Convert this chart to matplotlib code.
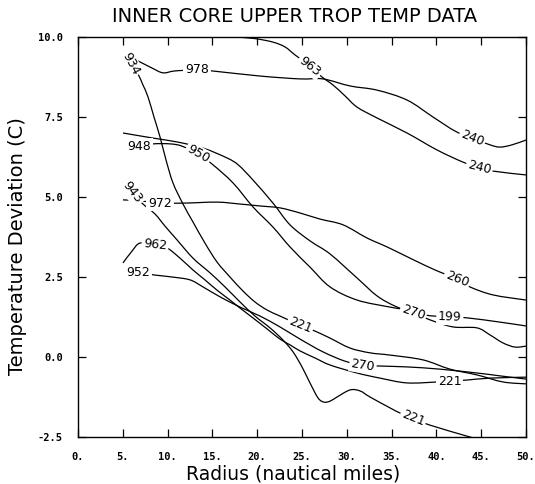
import matplotlib
matplotlib.use("Agg")
import matplotlib.pyplot as plt
from matplotlib.path import Path
from matplotlib.patches import PathPatch
import numpy as np

# ---------------- data (radius in n mi, temperature deviation in C) ----------------
c978_x = [5.25, 6.92, 8.26, 9.49, 10.83, 13.28, 14.96, 20.31, 24.78, 27.34, 30.36, 33.37,
          36.72, 39.62, 42.08, 43.97, 45.98, 47.1, 48.44, 50.0]
c978_y = [9.44, 9.22, 9.03, 8.88, 8.94, 8.97, 8.94, 8.78, 8.69, 8.69, 8.47, 8.34,
          8.03, 7.5, 7.06, 6.84, 6.63, 6.56, 6.63, 6.78]

c963_x = [17.5, 19.75, 21.76, 23.1, 24.22, 25.89, 27.23, 28.46, 29.8, 31.14, 33.37, 36.72,
          40.07, 42.97, 44.64, 46.32, 50.0]
c963_y = [10.0, 9.95, 9.84, 9.69, 9.44, 9.09, 8.75, 8.5, 8.16, 7.81, 7.47, 7.0,
          6.47, 6.09, 5.94, 5.81, 5.69]

c934_x = [5.13, 5.58, 6.14, 6.7, 7.25, 7.81, 8.48, 9.15, 9.82, 10.6, 11.72, 12.83, 14.17,
          15.51, 16.96, 18.42, 19.75, 21.09, 22.54, 24.78, 26.45, 28.13, 30.36, 32.59,
          34.82, 38.5, 41.52, 44.53, 47.43, 50.0]
c934_y = [9.53, 9.28, 9.06, 8.84, 8.5, 8.13, 7.5, 6.88, 6.16, 5.44, 4.78, 4.22, 3.56,
          2.97, 2.5, 2.06, 1.72, 1.47, 1.28, 1.0, 0.81, 0.59, 0.28, 0.13,
          0.06, -0.09, -0.38, -0.56, -0.78, -0.84]

c270_x = [5.02, 8.4, 11.05, 13.95, 16.63, 17.9, 19.53, 21.76, 23.66, 25.89, 28.13, 31.14,
          33.37, 35.38, 37.39, 39.29, 41.85, 44.53, 45.98, 47.43, 48.77, 50.0]
c270_y = [7.0, 6.84, 6.72, 6.53, 6.22, 6.0, 5.53, 4.81, 4.13, 3.63, 3.22, 2.47,
          1.91, 1.59, 1.38, 1.16, 0.94, 0.91, 0.69, 0.44, 0.31, 0.34]

c948_x = [5.55, 6.86, 8.37, 10.27, 11.6, 13.39, 14.96, 17.3, 19.53, 21.76, 23.66, 25.89,
          28.13, 31.14, 34.82, 36.72, 38.73, 41.52, 43.53, 47.1, 50.0]
c948_y = [6.59, 6.59, 6.66, 6.66, 6.59, 6.34, 6.03, 5.44, 4.69, 4.06, 3.44, 2.81,
          2.19, 1.78, 1.56, 1.47, 1.31, 1.25, 1.22, 1.09, 0.97]

c972_x = [5.02, 6.92, 9.15, 11.94, 15.51, 18.08, 20.31, 22.54, 24.78, 27.01, 29.58, 32.25,
          34.49, 37.05, 39.84, 42.3, 43.75, 46.32, 50.0]
c972_y = [4.91, 4.88, 4.81, 4.81, 4.84, 4.78, 4.72, 4.66, 4.5, 4.31, 4.13, 3.72,
          3.44, 3.09, 2.72, 2.44, 2.19, 1.94, 1.78]

c943_x = [5.3, 6.03, 7.14, 8.59, 9.71, 11.05, 12.83, 14.73, 16.41, 18.08, 19.75, 21.43,
          22.88, 24.0, 25.0, 25.89, 26.79, 27.46, 28.13, 28.91, 30.36, 31.47, 32.59,
          34.82, 35.94, 37.39, 39.29, 43.75, 45.98]
c943_y = [5.4, 5.16, 4.81, 4.47, 4.09, 3.66, 3.09, 2.63, 2.19, 1.72, 1.28, 0.91,
          0.53, 0.16, -0.31, -0.81, -1.28, -1.41, -1.38, -1.25, -1.03, -1.06, -1.25,
          -1.59, -1.75, -1.91, -2.13, -2.5, -2.69]

c962_x = [5.02, 6.03, 6.92, 8.59, 9.93, 11.38, 12.83, 14.17, 15.51, 16.96, 18.08, 19.53,
          21.09, 22.54, 23.66, 24.78, 26.45, 28.13, 31.14, 33.71, 36.72, 40.07, 41.52,
          43.42, 45.98, 50.0]
c962_y = [2.94, 3.31, 3.56, 3.5, 3.41, 3.09, 2.72, 2.41, 2.09, 1.78, 1.53, 1.22,
          0.88, 0.56, 0.38, 0.19, -0.03, -0.25, -0.5, -0.66, -0.81, -0.78, -0.75,
          -0.72, -0.66, -0.63]

c952_x = [5.5, 6.75, 8.59, 10.49, 12.5, 13.95, 15.85, 18.08, 20.31, 22.54, 24.78, 27.34,
          29.8, 31.81, 33.48, 36.72, 40.4, 44.53, 47.1, 50.0]
c952_y = [2.63, 2.63, 2.56, 2.5, 2.41, 2.19, 1.88, 1.56, 1.28, 0.94, 0.56, 0.16,
          -0.13, -0.25, -0.28, -0.31, -0.38, -0.5, -0.59, -0.69]

# line labels: (text, radius where placed, text angle)
c978_labels = [("978", 13.3, 0), ("240", 44.0, -22)]
c963_labels = [("963", 25.9, -38), ("240", 44.8, -14)]
c934_labels = [("934", 5.85, -62), ("221", 24.8, -22)]
c270_labels = [("270", 37.4, -19)]
c948_labels = [("948", 6.86, 0), ("950", 13.4, -30), ("199", 41.5, -2)]
c972_labels = [("972", 9.15, 0), ("260", 42.3, -22)]
c943_labels = [("943", 6.1, -52), ("221", 37.4, -22)]
c962_labels = [("962", 8.6, -6), ("221", 41.5, 0)]
c952_labels = [("952", 6.75, 0), ("270", 31.8, -9)]

x_ticks = [0, 5, 10, 15, 20, 25, 30, 35, 40, 45, 50]
x_ticklabels = ["0.", "5.", "10.", "15.", "20.", "25.", "30.", "35.", "40.", "45.", "50."]
y_ticks = [-2.5, 0.0, 2.5, 5.0, 7.5, 10.0]
y_ticklabels = ["-2.5", "0.0", "2.5", "5.0", "7.5", "10.0"]

title = "INNER CORE UPPER TROP TEMP DATA"
xlabel = "Radius (nautical miles)"
ylabel = "Temperature Deviation (C)"

curves = [
    (c978_x, c978_y, c978_labels),
    (c963_x, c963_y, c963_labels),
    (c934_x, c934_y, c934_labels),
    (c270_x, c270_y, c270_labels),
    (c948_x, c948_y, c948_labels),
    (c972_x, c972_y, c972_labels),
    (c943_x, c943_y, c943_labels),
    (c962_x, c962_y, c962_labels),
    (c952_x, c952_y, c952_labels),
]


def smooth_path(xs, ys):
    """Cubic Bezier path passing through every read point (Catmull-Rom tangents)."""
    p = np.column_stack([xs, ys]).astype(float)
    n = len(p)
    verts = [p[0]]
    codes = [Path.MOVETO]
    for i in range(n - 1):
        p0 = p[i - 1] if i > 0 else p[i]
        p3 = p[i + 2] if i + 2 < n else p[i + 1]
        c1 = p[i] + (p[i + 1] - p0) / 6.0
        c2 = p[i + 1] - (p3 - p[i]) / 6.0
        verts += [c1, c2, p[i + 1]]
        codes += [Path.CURVE4] * 3
    return Path(verts, codes)


# ---------------- figure ----------------
fig = plt.figure(figsize=(5.35, 4.84), dpi=100)
ax = fig.add_axes([78 / 535, (484 - 437) / 484, (526 - 78) / 535, 400 / 484])

for cx, cy, labs in curves:
    ax.add_patch(PathPatch(smooth_path(cx, cy), fill=False, edgecolor="black",
                           lw=0.9, zorder=2))
    for txt, lx, rot in labs:
        ly = float(np.interp(lx, cx, cy))
        ax.text(lx, ly, txt, fontsize=9, family="DejaVu Sans", rotation=rot,
                rotation_mode="anchor", ha="center", va="center", zorder=3,
                bbox=dict(boxstyle="square,pad=0.14", fc="white", ec="none"))

ax.set_xlim(0, 50)
ax.set_ylim(-2.5, 10)
ax.set_xticks(x_ticks)
ax.set_xticklabels(x_ticklabels)
ax.set_yticks(y_ticks)
ax.set_yticklabels(y_ticklabels)
ax.tick_params(direction="in", length=5.8, width=0.9, top=True, right=True,
               labelsize=7.5, pad=11)
for lab in ax.get_xticklabels() + ax.get_yticklabels():
    lab.set_family("DejaVu Sans Mono")
    lab.set_fontweight("bold")
for sp in ax.spines.values():
    sp.set_linewidth(1.0)

fig.text(295 / 535, 1 - 16 / 484, title, ha="center", va="center",
         fontsize=14, family="DejaVu Sans")
fig.text(293 / 535, (484 - 474) / 484, xlabel, ha="center", va="center",
         fontsize=13.5, family="DejaVu Sans")
fig.text(18 / 535, (484 - 246) / 484, ylabel, ha="center", va="center",
         rotation=90, fontsize=14, family="DejaVu Sans")

fig.savefig("out.png", dpi=100)
